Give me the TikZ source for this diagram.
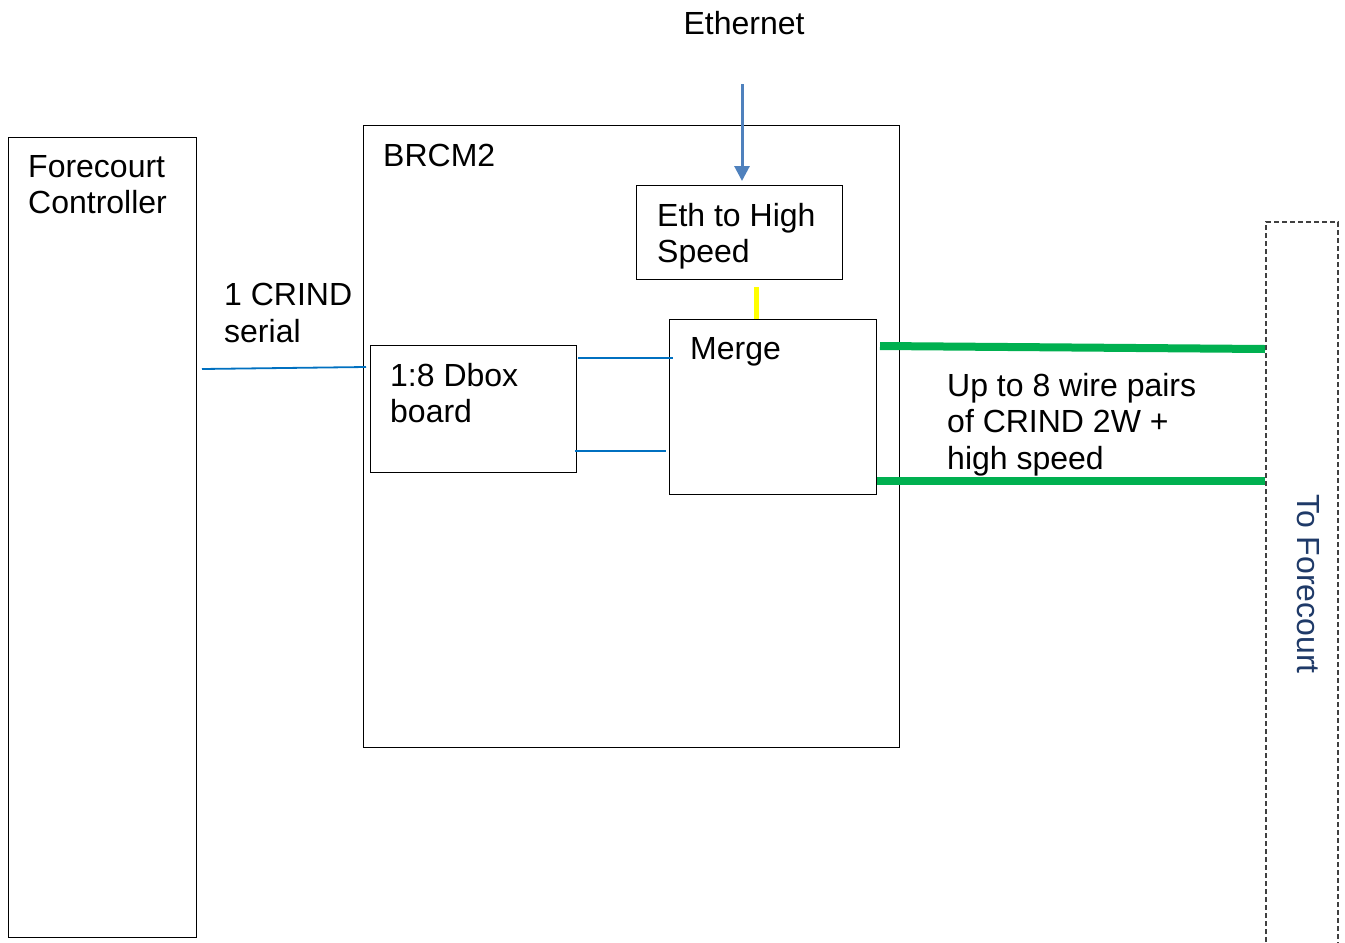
\documentclass[tikz,border=0pt]{standalone}
\usepackage{fontspec}
\setmainfont{Liberation Sans}
\usetikzlibrary{arrows.meta}
\definecolor{ethblue}{HTML}{4F81BD}
\definecolor{serblue}{HTML}{0070C0}
\definecolor{wiregreen}{HTML}{00B050}
\definecolor{hsyellow}{HTML}{FFFF00}
\definecolor{fcblue}{HTML}{1F3A68}
\definecolor{dashgray}{HTML}{404040}
\tikzset{
  box/.style={draw=black, line width=1.2pt, inner sep=0, anchor=north west},
  lbl/.style={inner sep=0, anchor=north west, align=left, font=\fontsize{32}{36.5}\selectfont},
  serial/.style={draw=serblue, line width=1.8pt},
  wire/.style={draw=wiregreen, line width=8pt},
}
\begin{document}
\begin{tikzpicture}[x=1pt,y=-1pt]
\useasboundingbox (0,0) rectangle (1345,943);
% boxes
\node[box, minimum width=188, minimum height=800] (fc) at (8,137) {};
\node[box, minimum width=536, minimum height=622] (brcm) at (363,125) {};
\node[box, minimum width=206, minimum height=94] (eth) at (636,185) {};
\node[box, minimum width=207, minimum height=175] (merge) at (669,319) {};
\node[box, minimum width=206, minimum height=127] (dbox) at (370,345) {};
% dashed forecourt box (runs off the bottom)
\draw[dashgray, line width=1.2pt, dash pattern=on 5pt off 3pt]
  (1266,950) -- (1266,222) -- (1338,222) -- (1338,950);
\coordinate (fcl1) at (1265,349);
\coordinate (fcl2) at (1265,481);
% texts
\node[lbl] (tfc) at (28,155) {Forecourt\\Controller};
\node[lbl] (tbr) at (383,144) {BRCM2};
\node[lbl] (tet) at (657,203) {Eth to High\\Speed};
\node[lbl] (tme) at (690,337) {Merge};
\node[lbl] (tdb) at (390,363) {1:8 Dbox\\board};
\node[lbl] (tcr) at (224,283) {1 CRIND\\serial};
\node[lbl] (tup) at (947,373) {Up to 8 wire pairs\\of CRIND 2W +\\high speed};
\node[inner sep=0, font=\fontsize{32}{36.5}\selectfont] (tethn) at (744,23) {Ethernet};
\node[inner sep=0, rotate=-90, text=fcblue, font=\fontsize{32}{36.5}\selectfont] (tto) at (1308,584) {To Forecourt};
% connectors
\coordinate (ea) at (742,84);
\draw[ethblue, line width=3pt, -{Triangle[width=15pt,length=15pt]}] (ea) -- (742,181);
\draw[hsyellow, line width=5pt] (756,287) -- (merge.north -| 756,0);
\coordinate (s1) at (202,369);
\coordinate (s2) at (366,367);
\draw[serial] (s1) -- (s2);
\coordinate (d1) at (578,358);
\coordinate (m1) at (673,358);
\draw[serial] (d1) -- (m1);
\coordinate (d2) at (575,451);
\coordinate (m2) at (666,451);
\draw[serial] (d2) -- (m2);
\coordinate (g1) at (880,346);
\draw[wire] (g1) -- (fcl1);
\draw[wire] (merge.east |- fcl2) -- (fcl2);
\end{tikzpicture}
\end{document}
